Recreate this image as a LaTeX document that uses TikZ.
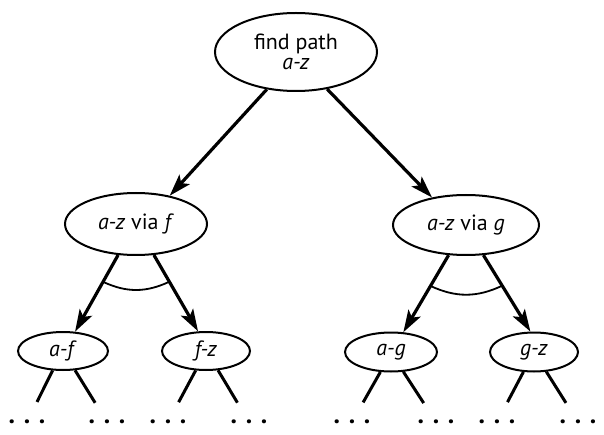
\documentclass[tikz,border=0pt]{standalone}
\usepackage{fontspec}
\setmainfont{PT Sans}
\usetikzlibrary{shapes.geometric,arrows.meta}
\begin{document}
\begin{tikzpicture}[x=1pt,y=-1pt,
  ell/.style={draw, ellipse, line width=2pt, inner sep=0pt, font=\fontsize{22}{20}\selectfont, align=center},
  arr/.style={line width=3.2pt, -{Stealth[length=22pt,width=14pt,inset=5pt]}},
  leg/.style={line width=3pt, shorten >=20pt},
  dotsn/.style={font=\fontsize{26}{26}\selectfont\bfseries, inner sep=0pt},
  arcl/.style={line width=1.8pt}]
\useasboundingbox (0,0) rectangle (604,435);
% nodes
\node[ell, minimum width=162pt, minimum height=78pt] (top) at (296,52) {find path\\\textit{a-z}};
\node[ell, minimum width=142pt, minimum height=62pt] (ml) at (136,224) {\textit{a-z} via \textit{f}};
\node[ell, minimum width=146pt, minimum height=60pt] (mr) at (466,225) {\textit{a-z} via \textit{g}};
\node[ell, minimum width=90pt, minimum height=38pt] (af) at (63,351) {\textit{a-f}};
\node[ell, minimum width=88pt, minimum height=38pt] (fz) at (206,351) {\textit{f-z}};
\node[ell, minimum width=92pt, minimum height=39pt] (ag) at (391,352) {\textit{a-g}};
\node[ell, minimum width=88pt, minimum height=39pt] (gz) at (534,352) {\textit{g-z}};
% dots
\node[dotsn] (d1) at (27,422) {.\,\,.\,\,.};
\node[dotsn] (d2) at (107,422) {.\,\,.\,\,.};
\node[dotsn] (d3) at (168,422) {.\,\,.\,\,.};
\node[dotsn] (d4) at (249,422) {.\,\,.\,\,.};
\node[dotsn] (d5) at (352,422) {.\,\,.\,\,.};
\node[dotsn] (d6) at (436,422) {.\,\,.\,\,.};
\node[dotsn] (d7) at (497,422) {.\,\,.\,\,.};
\node[dotsn] (d8) at (578,422) {.\,\,.\,\,.};
% arrows
\draw[arr] (top.232) -- (ml.40);
\draw[arr] (top.310) -- (mr.141);
\draw[arr] (ml.240) -- (af.58) coordinate[pos=0.35] (c1);
\draw[arr] (ml.300) -- (fz.112) coordinate[pos=0.35] (c2);
\draw[arr] (mr.240) -- (ag.58) coordinate[pos=0.4] (c3);
\draw[arr] (mr.300) -- (gz.100) coordinate[pos=0.4] (c4);
% and-arcs
\draw[arcl] (c1) to[bend right=25] (c2);
\draw[arcl] (c3) to[bend right=25] (c4);
% legs
\draw[leg] (af.242) -- (d1);
\draw[leg] (af.302) -- (d2);
\draw[leg] (fz.242) -- (d3);
\draw[leg] (fz.302) -- (d4);
\draw[leg] (ag.242) -- (d5);
\draw[leg] (ag.302) -- (d6);
\draw[leg] (gz.242) -- (d7);
\draw[leg] (gz.302) -- (d8);
\end{tikzpicture}
\end{document}
